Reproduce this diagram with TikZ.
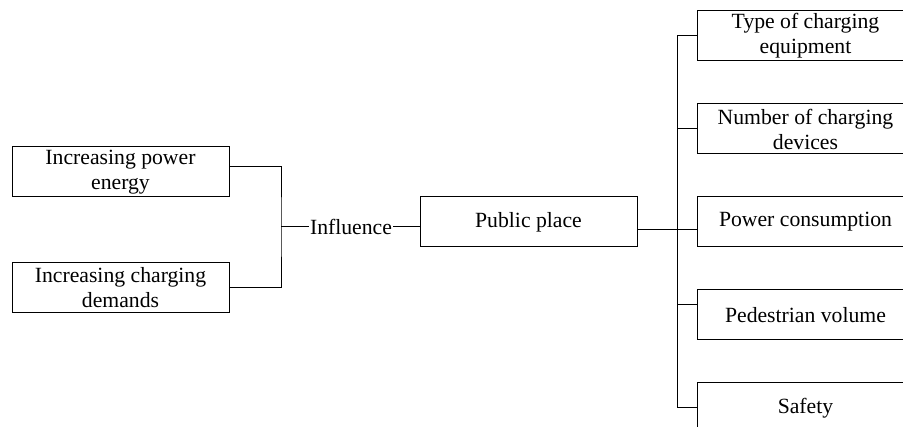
\documentclass[tikz,border=0pt]{standalone}
\usepackage{fontspec}
\setmainfont{Liberation Serif}
\begin{document}
\begin{tikzpicture}[x=1pt,y=-1pt,line width=1pt,
  box/.style={draw,rectangle,minimum width=217pt,minimum height=50pt,inner sep=0pt,align=center,font=\fontsize{21.7}{25}\selectfont},
  lbl/.style={inner sep=1pt,font=\fontsize{21.7}{25}\selectfont}]
\useasboundingbox (0,0) rectangle (903,427);
\clip (0,0) rectangle (903,427);
% left boxes
\node[box] (L1) at (120.5,172) {Increasing power\\energy};
\node[box] (L2) at (120.5,287.5) {Increasing charging\\demands};
\coordinate (jl) at (281,227);
\node[lbl] (inf) at (351,227) {Influence};
\node[box] (pp) at (528.5,222) {Public place};
% right boxes
\node[box] (R1) at (805.5,36) {Type of charging\\equipment};
\node[box] (R2) at (805.5,129) {Number of charging\\devices};
\node[box] (R3) at (805.5,222) {Power consumption};
\node[box] (R4) at (805.5,315) {Pedestrian volume};
\node[box] (R5) at (805.5,408) {Safety};
\coordinate (jbot) at (677,408);
% left connectors
\draw ([yshift=5pt]L1.east) -| (jl) |- (L2.east);
\draw (jl) -- (inf.west);
\draw (inf.east) -- ([yshift=-5pt]pp.west);
% right connectors
\draw ([yshift=-8pt]pp.east) -- ([yshift=-8pt]R3.west);
\draw (R1.west) -| (jbot) -- (R5.west);
\draw (R2.west) -- (R2.west -| jbot);
\path ([yshift=10pt]R4.west) coordinate (r4c);
\draw (r4c) -- (r4c -| jbot);
\end{tikzpicture}
\end{document}
